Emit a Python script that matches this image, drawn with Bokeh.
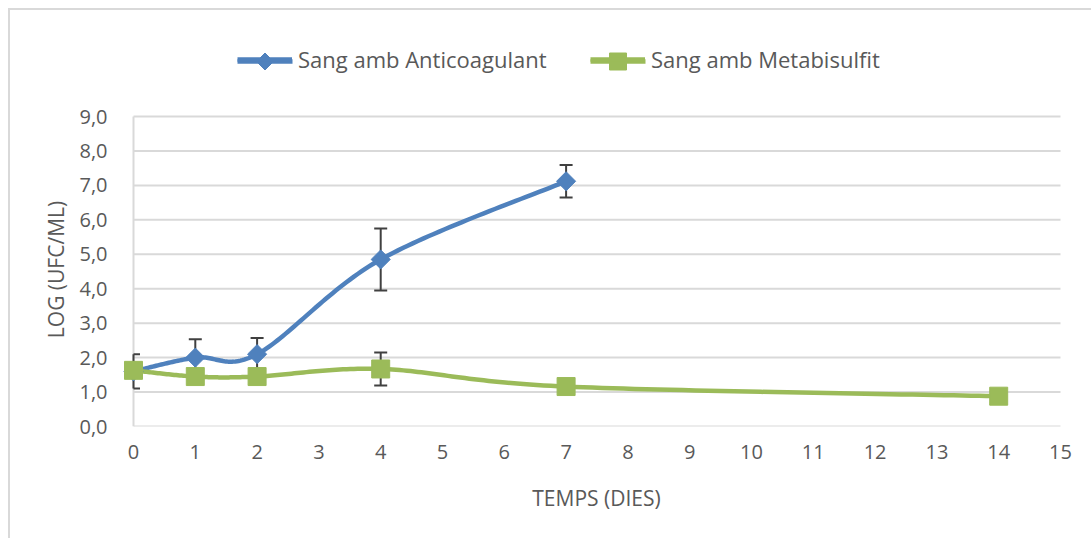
import numpy as np
from bokeh.plotting import figure
from bokeh.layouts import column
from bokeh.models import Range1d, FixedTicker, Legend, LegendItem
from bokeh.embed import file_html
from bokeh.resources import INLINE

# Sampling days (x) and log10 counts (y) with their error bars
days_anticoag = [0, 1, 2, 4, 7]
log_anticoag = [1.60, 2.00, 2.10, 4.85, 7.12]
err_anticoag = [0.50, 0.53, 0.47, 0.90, 0.47]

days_metabis = [0, 1, 2, 4, 7, 14]
log_metabis = [1.63, 1.45, 1.45, 1.67, 1.16, 0.88]
err_metabis = [0.0, 0.0, 0.0, 0.48, 0.0, 0.0]

series_names = ["Sang amb Anticoagulant", "Sang amb Metabisulfit"]
x_ticks = list(range(0, 16))
y_ticks = list(range(0, 10))
y_tick_labels = {t: f"{t},0" for t in y_ticks}
x_title = "TEMPS (DIES)"
y_title = "LOG (UFC/ML)"

BLUE = "#4F81BD"
GREEN = "#9BBB59"
GRID = "#D9D9D9"
TEXT = "#595959"
ERR = "#404040"
FONT = "Open Sans"

# ---- layout (page pixels; the drawing starts 10px in from the page corner) ----
origin = 10
axis_left, axis_right = 133, 1060      # day 0 and day 15
axis_top, axis_bottom = 116, 426       # 9,0 and 0,0
frame_left, frame_right = 108, 1084    # a little wider so day-0 markers aren't cut
frame_top = 112
chart_top = 104                        # where the chart canvas starts (legend strip above)
ppu = (axis_right - axis_left) / (x_ticks[-1] - x_ticks[0])
ppv = (axis_bottom - axis_top) / (y_ticks[-1] - y_ticks[0])
x_start = x_ticks[0] - (axis_left - frame_left) / ppu
x_end = x_ticks[-1] + (frame_right - axis_right) / ppu
y_end = y_ticks[-1] + (axis_top - frame_top) / ppv


def smooth(xs, ys, n=40):
    """Catmull-Rom style cubic Bezier through the points (spreadsheet 'smoothed line')."""
    pts = np.column_stack([xs, ys]).astype(float)
    out = [pts[0]]
    t = np.linspace(0, 1, n)[1:, None]
    for i in range(len(pts) - 1):
        p0 = pts[i - 1] if i > 0 else pts[i]
        p1, p2 = pts[i], pts[i + 1]
        p3 = pts[i + 2] if i + 2 < len(pts) else pts[i + 1]
        c1 = p1 + (p2 - p0) / 6
        c2 = p2 - (p3 - p1) / 6
        seg = (1 - t) ** 3 * p1 + 3 * (1 - t) ** 2 * t * c1 + 3 * (1 - t) * t ** 2 * c2 + t ** 3 * p2
        out.extend(seg)
    out = np.array(out)
    return out[:, 0], out[:, 1]


# ---- main chart ----
p = figure(
    frame_width=frame_right - frame_left, frame_height=axis_bottom - frame_top,
    min_border_left=frame_left - origin, min_border_right=1091 - frame_right,
    min_border_top=frame_top - chart_top, min_border_bottom=538 - axis_bottom,
    x_range=Range1d(x_start, x_end), y_range=Range1d(y_ticks[0], y_end),
    output_backend="svg", toolbar_location=None,
    background_fill_color="white", border_fill_color="white",
)
p.outline_line_color = None
p.xgrid.visible = False
p.ygrid.visible = False

# axes: tick labels and titles; the rule lines are drawn as data segments
p.xaxis.ticker = FixedTicker(ticks=x_ticks)
p.yaxis.ticker = FixedTicker(ticks=y_ticks)
p.yaxis.major_label_overrides = y_tick_labels
p.xaxis.axis_label = x_title
p.yaxis.axis_label = y_title
for ax in (p.xaxis[0], p.yaxis[0]):
    ax.axis_line_color = None
    ax.major_tick_line_color = None
    ax.minor_tick_line_color = None
    ax.major_tick_out = 0
    ax.major_tick_in = 0
    ax.major_label_text_font = FONT
    ax.major_label_text_font_size = "20px"
    ax.major_label_text_color = TEXT
    ax.axis_label_text_font = FONT
    ax.axis_label_text_font_size = "21px"
    ax.axis_label_text_font_style = "normal"
    ax.axis_label_text_color = TEXT
p.xaxis.major_label_standoff = 18
p.yaxis.major_label_standoff = 1
p.xaxis.axis_label_standoff = 22
p.yaxis.axis_label_standoff = 6

# horizontal gridlines and the vertical axis line, spanning day 0..15
n = len(y_ticks)
p.segment(x0=[x_ticks[0]] * n, x1=[x_ticks[-1]] * n, y0=y_ticks, y1=y_ticks,
          line_color=GRID, line_width=2)
p.segment(x0=[x_ticks[0]], x1=[x_ticks[0]], y0=[y_ticks[0]], y1=[y_ticks[-1]],
          line_color=GRID, line_width=2)

# smoothed series lines
bx, by = smooth(days_anticoag, log_anticoag)
gx, gy = smooth(days_metabis, log_metabis)
p.line(bx, by, line_color=BLUE, line_width=4.5, line_join="round")
p.line(gx, gy, line_color=GREEN, line_width=4.5, line_join="round")

# error bars (caps are clipped at day 0 like the plot edge)
cap = 6.5 / ppu
ex, ey0, ey1, cx0, cx1, cy = [], [], [], [], [], []
for xs, ys, es in ((days_anticoag, log_anticoag, err_anticoag),
                   (days_metabis, log_metabis, err_metabis)):
    for x, y, e in zip(xs, ys, es):
        if e <= 0:
            continue
        ex.append(x); ey0.append(y - e); ey1.append(y + e)
        for yy in (y - e, y + e):
            cx0.append(max(x - cap, x_ticks[0])); cx1.append(x + cap); cy.append(yy)
p.segment(x0=ex, x1=ex, y0=ey0, y1=ey1, line_color=ERR, line_width=2)
p.segment(x0=cx0, x1=cx1, y0=cy, y1=cy, line_color=ERR, line_width=2)

# markers
p.scatter(days_anticoag, log_anticoag, marker="square", angle=np.pi / 4,
          size=13.5, fill_color=BLUE, line_color=BLUE)
p.scatter(days_metabis, log_metabis, marker="square", size=18,
          fill_color=GREEN, line_color=GREEN)

# ---- legend strip above the chart ----
# the column lines this strip's frame up with the chart's frame, so its ranges are
# page pixels across (frame_left..frame_right) and strip pixels up from its bottom
strip_h = chart_top - origin
lg_fig = figure(
    frame_width=frame_right - frame_left, height=strip_h,
    min_border_left=frame_left - origin, min_border_right=1091 - frame_right,
    min_border_top=0, min_border_bottom=0,
    x_range=Range1d(frame_left, frame_right), y_range=Range1d(0, strip_h),
    x_axis_type=None, y_axis_type=None,
    output_backend="svg", toolbar_location=None,
    background_fill_color="white", border_fill_color="white",
)
lg_fig.outline_line_color = None
lg_fig.grid.visible = False

key_w, key_h = 55, 26
key_mid = chart_top - 61                   # legend row centre, measured up from the strip bottom
keys = [(series_names[0], BLUE, 237, 12, np.pi / 4), (series_names[1], GREEN, 590, 17, 0.0)]
for name, color, kx, msize, mangle in keys:
    key_line = lg_fig.line([kx, kx + key_w], [key_mid, key_mid], line_color=color, line_width=4.5)
    lg_fig.scatter([kx + key_w / 2], [key_mid], marker="square", angle=mangle,
                   size=msize, fill_color=color, line_color=color)
    lg = Legend(items=[LegendItem(label=name, renderers=[key_line])],
                location=(kx - frame_left, key_mid - key_h / 2), orientation="horizontal",
                glyph_width=key_w, glyph_height=key_h, label_height=key_h,
                label_standoff=6, padding=0, margin=0, spacing=0,
                border_line_alpha=0, background_fill_alpha=0,
                label_text_font=FONT, label_text_font_size="22px",
                label_text_color=TEXT)
    lg_fig.add_layout(lg, "center")

page = column(lg_fig, p, spacing=0, styles={
    "margin-left": "8px", "margin-top": "8px",
    "border-left": f"2px solid {GRID}", "border-top": f"2px solid {GRID}",
})

open("out.html", "w").write(file_html(page, INLINE))
